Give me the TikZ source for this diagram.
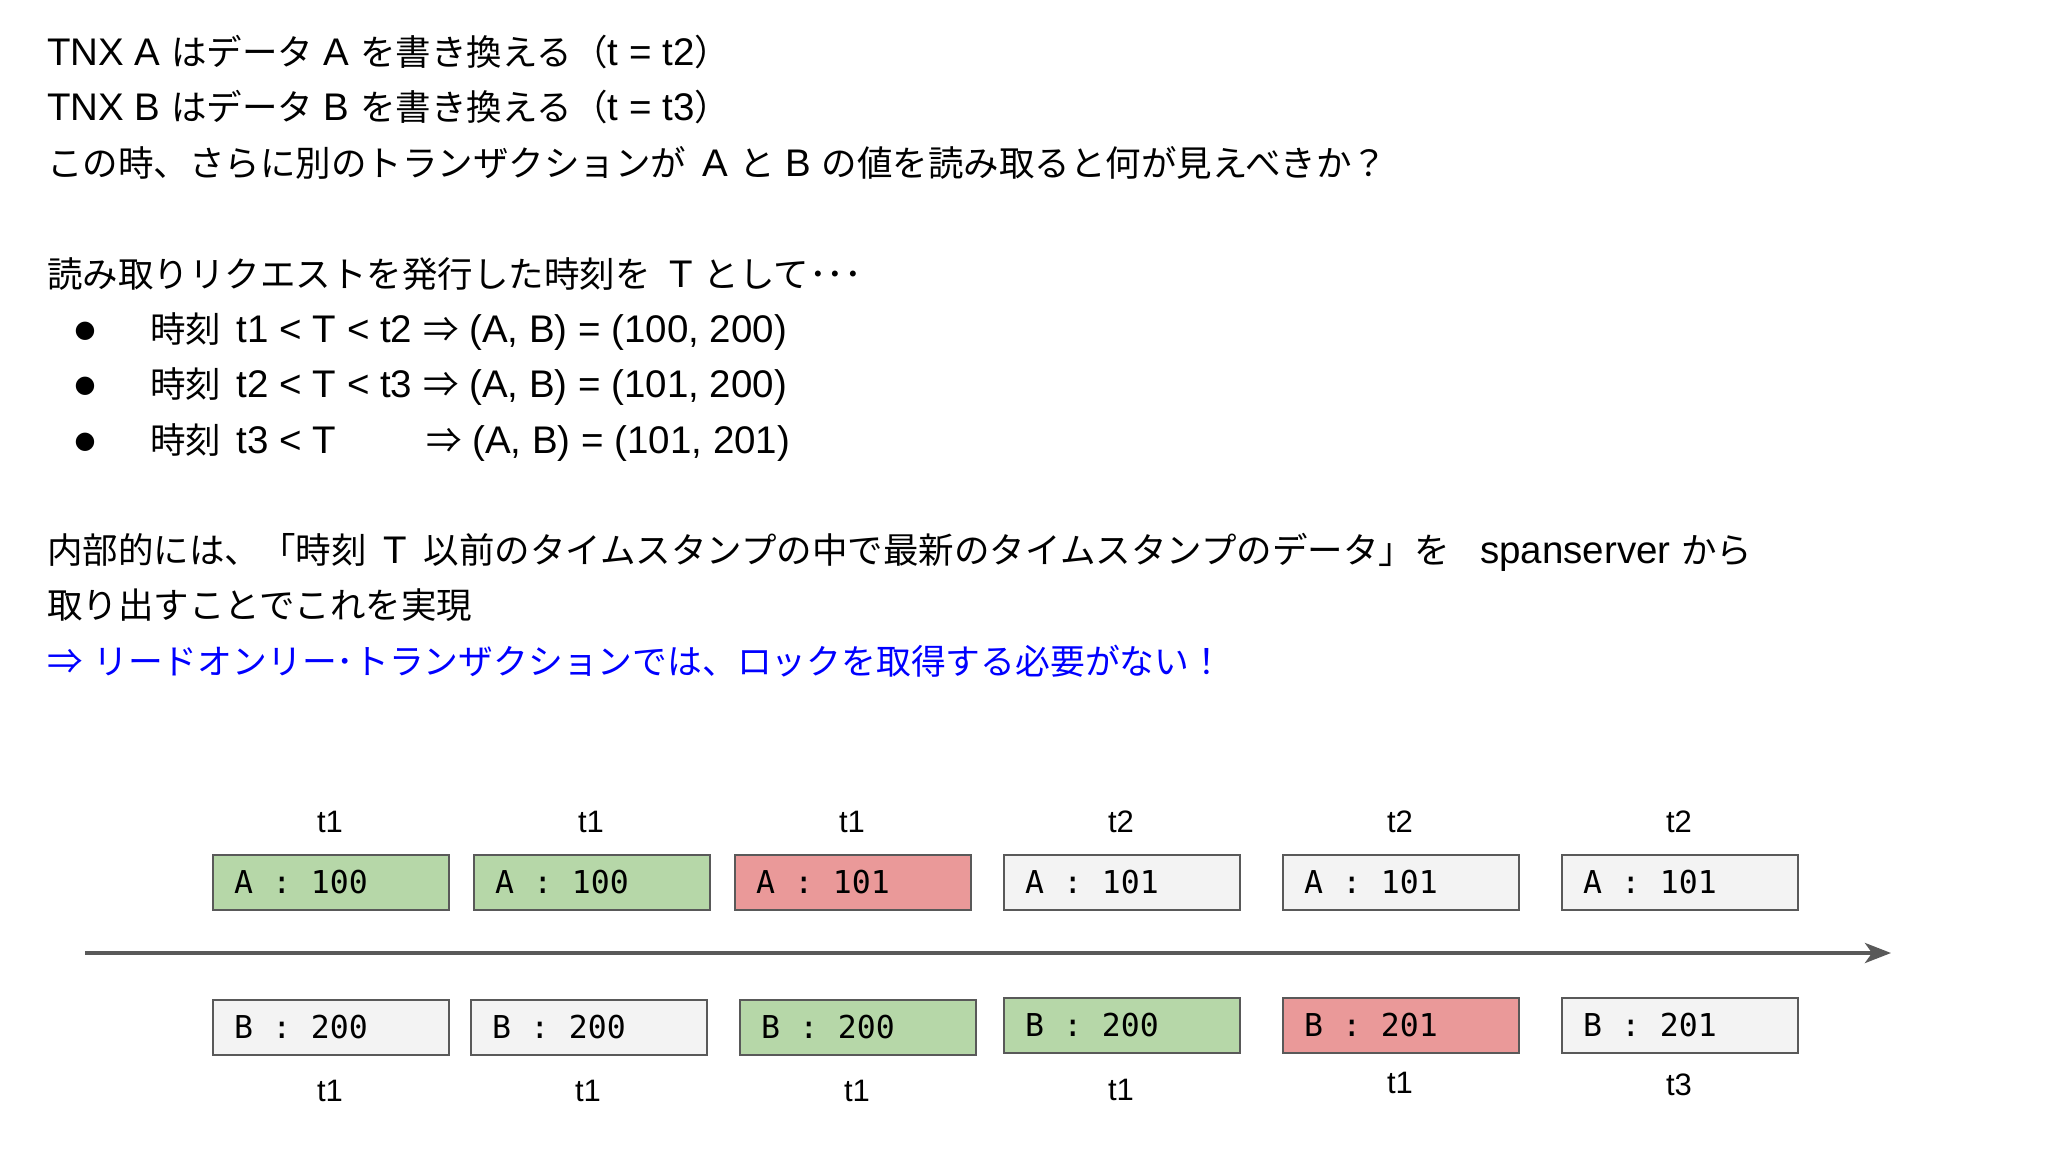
\documentclass[tikz,border=0pt]{standalone}
\usepackage{fontspec}
\setmainfont{Liberation Sans}
\newfontfamily\jpf{Noto Sans CJK JP}
\newfontfamily\monof{DejaVu Sans Mono}
\newfontfamily\dejavu{DejaVu Sans}
\newcommand{\J}[1]{{\jpf\fontsize{35.5}{42}\selectfont #1}}
\newcommand{\Jb}[1]{{\jpf\fontsize{34.8}{42}\selectfont #1}}
\newcommand{\ms}{\hspace{0.62em}}
\usetikzlibrary{arrows.meta}
\definecolor{gfill}{HTML}{B6D7A8}
\definecolor{rfill}{HTML}{EA9999}
\definecolor{wfill}{HTML}{F3F3F3}
\definecolor{edgec}{HTML}{595959}
\definecolor{bluetxt}{HTML}{0000FF}
\begin{document}
\begin{tikzpicture}[x=1pt,y=-1pt,
  txt/.style={anchor=base west, inner sep=0pt, font=\fontsize{38.5}{44}\selectfont},
  bul/.style={anchor=center, inner sep=0pt, font=\dejavu\fontsize{24}{28}\selectfont},
  cell/.style={draw=edgec, line width=2pt, anchor=north west, minimum height=55pt,
    inner xsep=21pt, inner ysep=0pt, text width=194pt, align=left,
    font=\monof\fontsize{31.5}{36}\selectfont},
  gcell/.style={cell, fill=gfill},
  rcell/.style={cell, fill=rfill},
  wcell/.style={cell, fill=wfill},
  tlab/.style={anchor=center, inner sep=0pt, font=\fontsize{31}{36}\selectfont}]
\useasboundingbox (0,0) rectangle (2048,1152);

% text
\node[txt] (l1) at (47,65) {TNX A \J{はデータ} A \J{を書き換える（}t = t2\J{）}};
\node[txt] (l2) at (47,120) {TNX B \J{はデータ} B \J{を書き換える（}t = t3\J{）}};
\node[txt] (l3) at (47,176) {\J{この時、さらに別のトランザクションが}\hspace{6pt} A \J{と} B \J{の値を読み取ると何が見えべきか？}};
\node[txt] (l4) at (47,287) {\J{読み取りリクエストを発行した時刻を}\hspace{8pt} T \J{として･･･}};
\node[bul] (b1) at (85,331) {●};
\node[bul] (b2) at (85,386) {●};
\node[bul] (b3) at (85,442) {●};
\node[txt] (i1) at (150,342) {\J{時刻}\hspace{5pt} t1 < T < t2 \J{⇒} (A, B) = (100, 200)};
\node[txt] (i2) at (150,397) {\J{時刻}\hspace{5pt} t2 < T < t3 \J{⇒} (A, B) = (101, 200)};
\node[txt] (i3a) at (150,453) {\J{時刻}\hspace{5pt} t3 < T};
\node[txt] (i3b) at (426,453) {\J{⇒} (A, B) = (101, 201)};
\node[txt] (p1) at (47,563) {\J{内部的には、「時刻}\hspace{6pt} T\hspace{6pt} \J{以前のタイムスタンプの中で最新のタイムスタンプのデータ」を}\hspace{20pt} spanserver \J{から}};
\node[txt] (p2) at (47,618) {\J{取り出すことでこれを実現}};
\node[txt, text=bluetxt] (p3) at (47,674) {\J{⇒} \Jb{リードオンリー･トランザクションでは、ロックを取得する必要がない！}};

% timeline
\coordinate (ax0) at (85,953);
\coordinate (ax1) at (1891,953);
\draw[edgec, line width=4pt, -{Stealth[length=26pt, width=20pt, inset=7pt]}] (ax0) -- (ax1);

% A row
\node[gcell] (a1) at (212,854) {A\ms:\ms100};
\node[gcell] (a2) at (473,854) {A\ms:\ms100};
\node[rcell] (a3) at (734,854) {A\ms:\ms101};
\node[wcell] (a4) at (1003,854) {A\ms:\ms101};
\node[wcell] (a5) at (1282,854) {A\ms:\ms101};
\node[wcell] (a6) at (1561,854) {A\ms:\ms101};
\node[tlab] (ta1) at (330,822) {t1};
\node[tlab] (ta2) at (591,822) {t1};
\node[tlab] (ta3) at (852,822) {t1};
\node[tlab] (ta4) at (1121,822) {t2};
\node[tlab] (ta5) at (1400,822) {t2};
\node[tlab] (ta6) at (1679,822) {t2};

% B row
\node[wcell] (bb1) at (212,999) {B\ms:\ms200};
\node[wcell] (bb2) at (470,999) {B\ms:\ms200};
\node[gcell] (bb3) at (739,999) {B\ms:\ms200};
\node[gcell] (bb4) at (1003,997) {B\ms:\ms200};
\node[rcell] (bb5) at (1282,997) {B\ms:\ms201};
\node[wcell] (bb6) at (1561,997) {B\ms:\ms201};
\node[tlab] (tb1) at (330,1091) {t1};
\node[tlab] (tb2) at (588,1091) {t1};
\node[tlab] (tb3) at (857,1091) {t1};
\node[tlab] (tb4) at (1121,1090) {t1};
\node[tlab] (tb5) at (1400,1083) {t1};
\node[tlab] (tb6) at (1679,1085) {t3};
\end{tikzpicture}
\end{document}
